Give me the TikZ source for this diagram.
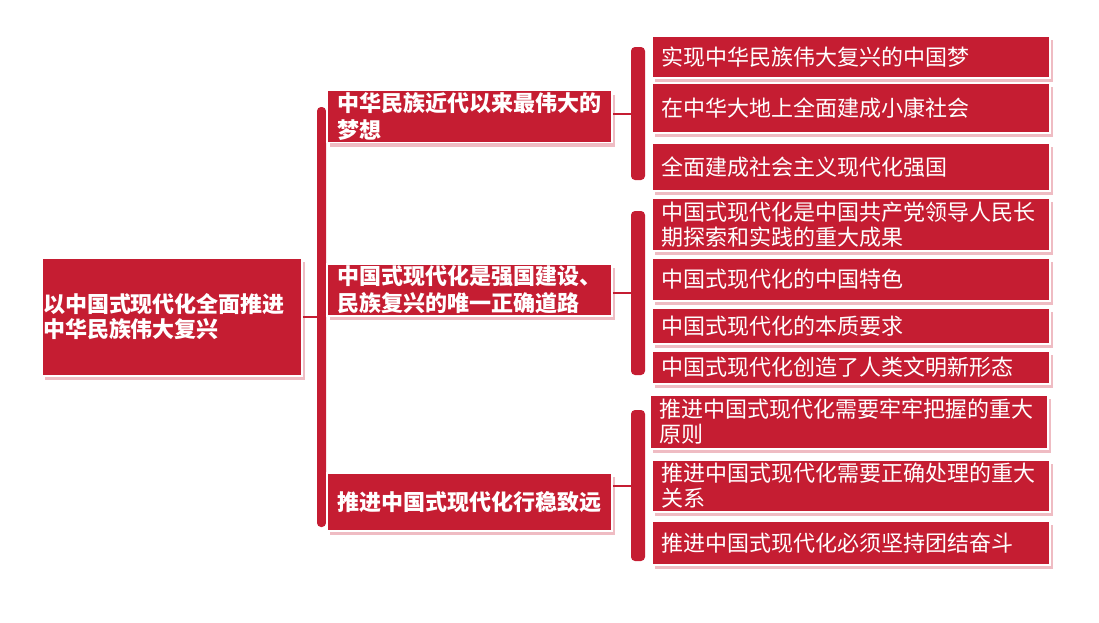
\documentclass[tikz,border=0pt]{standalone}
\usepackage{fontspec}
\setmainfont{Noto Sans CJK SC}
\usetikzlibrary{calc,shadows}
\definecolor{mapRed}{RGB}{197,29,50}
\definecolor{mapShade}{RGB}{232,160,170}

\begin{document}
\begin{tikzpicture}[x=0.5pt, y=-0.5pt,
  box/.style={fill=mapRed, draw=white, line width=0.75pt, text=white,
              align=left, inner ysep=0pt,
              drop shadow={shadow xshift=1.5pt, shadow yshift=-2pt,
                           fill=mapShade, opacity=0.7}},
  rootbox/.style={box, font=\fontsize{11}{12.5}\selectfont\bfseries,
                  inner xsep=0.5pt, text width=129pt, minimum height=59pt},
  branch/.style={box, font=\fontsize{11}{13.5}\selectfont\bfseries,
                 inner xsep=5pt, text width=132.5pt},
  leaf/.style={box, font=\fontsize{11}{12.5}\selectfont,
               inner xsep=4.5pt, text width=190pt},
  brace/.style={fill=mapRed, rounded corners=2pt, inner sep=0pt},
  link/.style={draw=mapRed, line width=1pt}
]
\useasboundingbox (0,0) rectangle (1099,622);

% brackets
\node[brace, minimum width=4.5pt, minimum height=210pt] (spine) at (321.5,317) {};
\node[brace, minimum width=7pt, minimum height=66.5pt] (br1) at (638,113.5) {};
\node[brace, minimum width=7pt, minimum height=82pt] (br2) at (638,293) {};
\node[brace, minimum width=7pt, minimum height=75.5pt] (br3) at (638,485.5) {};

% root
\node[rootbox] (root) at (172,317) {以中国式现代化全面推进\\中华民族伟大复兴};

% second level
\node[branch, minimum height=26pt] (b1) at (469.5,116.5) {中华民族近代以来最伟大的\\梦想};
\node[branch, minimum height=26pt] (b2) at (469.5,290) {中国式现代化是强国建设、\\民族复兴的唯一正确道路};
\node[branch, minimum height=29pt] (b3) at (469.5,502) {推进中国式现代化行稳致远};

% third level
\node[leaf, minimum height=21pt] (l1) at (851,57) {实现中华民族伟大复兴的中国梦};
\node[leaf, minimum height=25pt] (l2) at (851,108) {在中华大地上全面建成小康社会};
\node[leaf, minimum height=24pt] (l3) at (851,167) {全面建成社会主义现代化强国};
\node[leaf, minimum height=26.5pt] (l4) at (851,224.5) {中国式现代化是中国共产党领导人民长\\期探索和实践的重大成果};
\node[leaf, minimum height=21.5pt] (l5) at (851,279.5) {中国式现代化的中国特色};
\node[leaf, minimum height=18pt] (l6) at (851,326) {中国式现代化的本质要求};
\node[leaf, minimum height=16.5pt] (l7) at (851,367.5) {中国式现代化创造了人类文明新形态};
\node[leaf, minimum height=27pt] (l8) at (849,422) {推进中国式现代化需要牢牢把握的重大\\原则};
\node[leaf, minimum height=26pt] (l9) at (851,486) {推进中国式现代化需要正确处理的重大\\关系};
\node[leaf, minimum height=22pt] (l10) at (851,543) {推进中国式现代化必须坚持团结奋斗};

% connectors
\draw[link] (root.east) -- (spine.west |- root.east);
\draw[link] (b1.east |- br1.west) -- (br1.west);
\draw[link] (b2.east |- br2.west) -- (br2.west);
\draw[link] (b3.east |- br3.west) -- (br3.west);
\end{tikzpicture}
\end{document}
